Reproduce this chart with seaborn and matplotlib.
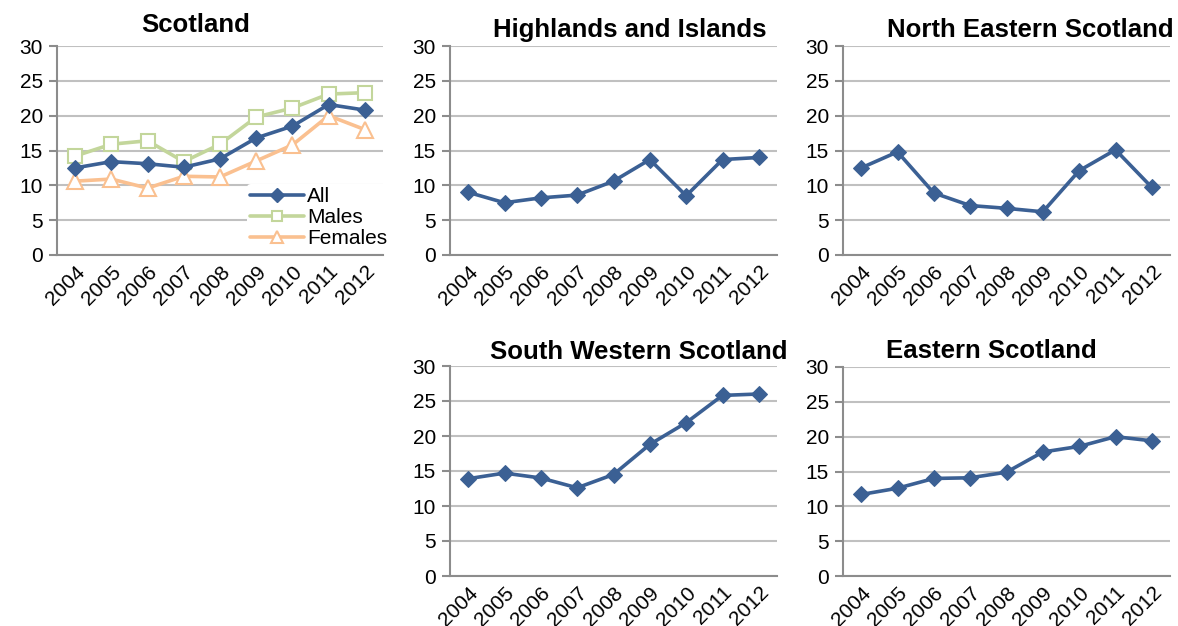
import pandas as pd
import matplotlib.pyplot as plt
import seaborn as sns
from matplotlib.lines import Line2D

years = [2004, 2005, 2006, 2007, 2008, 2009, 2010, 2011, 2012]

# Scotland, by sex
scot_all = [12.5, 13.4, 13.1, 12.6, 13.8, 16.8, 18.5, 21.6, 20.8]
scot_males = [14.2, 15.9, 16.4, 13.4, 15.9, 19.8, 21.1, 23.1, 23.3]
scot_females = [10.6, 10.9, 9.6, 11.3, 11.2, 13.5, 15.8, 20.0, 18.0]

# regions (all)
highlands = [9.0, 7.5, 8.2, 8.6, 10.6, 13.7, 8.5, 13.7, 14.0]
north_eastern = [12.5, 14.8, 8.9, 7.1, 6.7, 6.2, 12.1, 15.1, 9.7]
south_western = [13.9, 14.7, 14.0, 12.6, 14.5, 18.8, 21.9, 25.8, 26.0]
eastern = [11.7, 12.6, 14.0, 14.1, 14.9, 17.8, 18.6, 20.0, 19.4]

BLUE = '#3b6094'
GREEN = '#c3d69b'
ORANGE = '#fac090'
GRID = '#c0c0c0'
SPINE = '#8c8c8c'

sns.set_style('white')
plt.rcParams['font.family'] = ['Liberation Sans', 'DejaVu Sans']
plt.rcParams['text.color'] = 'black'
plt.rcParams['xtick.color'] = 'black'
plt.rcParams['ytick.color'] = 'black'

W, H = 1178, 626
fig = plt.figure(figsize=(W / 100, H / 100), dpi=100)


def make_ax(left, right, top, bottom):
    return fig.add_axes([left / W, (H - bottom) / H, (right - left) / W, (bottom - top) / H])


def style_ax(ax):
    ax.set_xlim(2003.5, 2012.5)
    ax.set_ylim(0, 30)
    ax.set_yticks(range(0, 31, 5))
    ax.set_xticks(years)
    ax.set_xticklabels([str(y) for y in years], rotation=45, ha='right',
                       rotation_mode='anchor', fontsize=15)
    ax.tick_params(axis='y', labelsize=15, length=6, color=SPINE, labelcolor='black',
                   width=1.5, pad=4, direction='out', left=True)
    ax.tick_params(axis='x', length=0, pad=5, labelcolor='black')
    ax.grid(axis='y', color=GRID, linewidth=1.5)
    ax.set_axisbelow(True)
    for s in ['top', 'right']:
        ax.spines[s].set_visible(False)
    for s in ['left', 'bottom']:
        ax.spines[s].set_color(SPINE)
        ax.spines[s].set_linewidth(1.5)
    ax.set_xlabel('')
    ax.set_ylabel('')


def add_title(ax, text, xc, yc):
    fig.text(xc / W, (H - yc) / H, text, ha='center', va='center',
             fontsize=18.5, fontweight='bold', color='black')


def region_plot(ax, values):
    df = pd.DataFrame({'Year': years, 'Rate': values})
    sns.lineplot(data=df, x='Year', y='Rate', ax=ax, color=BLUE, linewidth=2.6,
                 marker='D', markersize=8.5, markeredgecolor=BLUE, markerfacecolor=BLUE)
    style_ax(ax)


# Scotland panel
ax1 = make_ax(57, 383, 46, 255)
scot = pd.DataFrame({
    'Year': years * 3,
    'Rate': scot_all + scot_males + scot_females,
    'Group': ['All'] * 9 + ['Males'] * 9 + ['Females'] * 9,
})
sns.lineplot(data=scot[scot.Group == 'Males'], x='Year', y='Rate', ax=ax1, color=GREEN,
             linewidth=2.6, marker='s', markersize=10, markerfacecolor='white',
             markeredgecolor=GREEN, markeredgewidth=1.5)
sns.lineplot(data=scot[scot.Group == 'Females'], x='Year', y='Rate', ax=ax1, color=ORANGE,
             linewidth=2.6, marker='^', markersize=11, markerfacecolor='white',
             markeredgecolor=ORANGE, markeredgewidth=1.5)
sns.lineplot(data=scot[scot.Group == 'All'], x='Year', y='Rate', ax=ax1, color=BLUE,
             linewidth=2.6, marker='D', markersize=8.5, markeredgecolor=BLUE, markerfacecolor=BLUE)
style_ax(ax1)
add_title(ax1, 'Scotland', 196, 25)

handles = [
    Line2D([], [], color=BLUE, lw=2.6, marker='D', ms=7, mfc=BLUE, mec=BLUE),
    Line2D([], [], color=GREEN, lw=2.6, marker='s', ms=7, mfc='white', mec=GREEN, mew=1.5),
    Line2D([], [], color=ORANGE, lw=2.6, marker='^', ms=8, mfc='white', mec=ORANGE, mew=1.5),
]
leg = ax1.legend(handles, ['All', 'Males', 'Females'], loc='upper left',
                 bbox_to_anchor=((247 - 57) / 326, (255 - 184) / 209),
                 frameon=True, fontsize=15, handlelength=2.6, handletextpad=0.15,
                 labelspacing=0.1, borderpad=0.15, borderaxespad=0, framealpha=1)
leg.get_frame().set_edgecolor('white')
leg.get_frame().set_linewidth(0)

ax2 = make_ax(450, 777, 46, 255)
region_plot(ax2, highlands)
add_title(ax2, 'Highlands and Islands', 630, 30)

ax3 = make_ax(843, 1170, 46, 255)
region_plot(ax3, north_eastern)
add_title(ax3, 'North Eastern Scotland', 1030, 30)

ax4 = make_ax(450, 777, 366, 576)
region_plot(ax4, south_western)
add_title(ax4, 'South Western Scotland', 639, 352)

ax5 = make_ax(843, 1170, 367, 576)
region_plot(ax5, eastern)
add_title(ax5, 'Eastern Scotland', 991, 351)

fig.savefig('out.png', dpi=100)
